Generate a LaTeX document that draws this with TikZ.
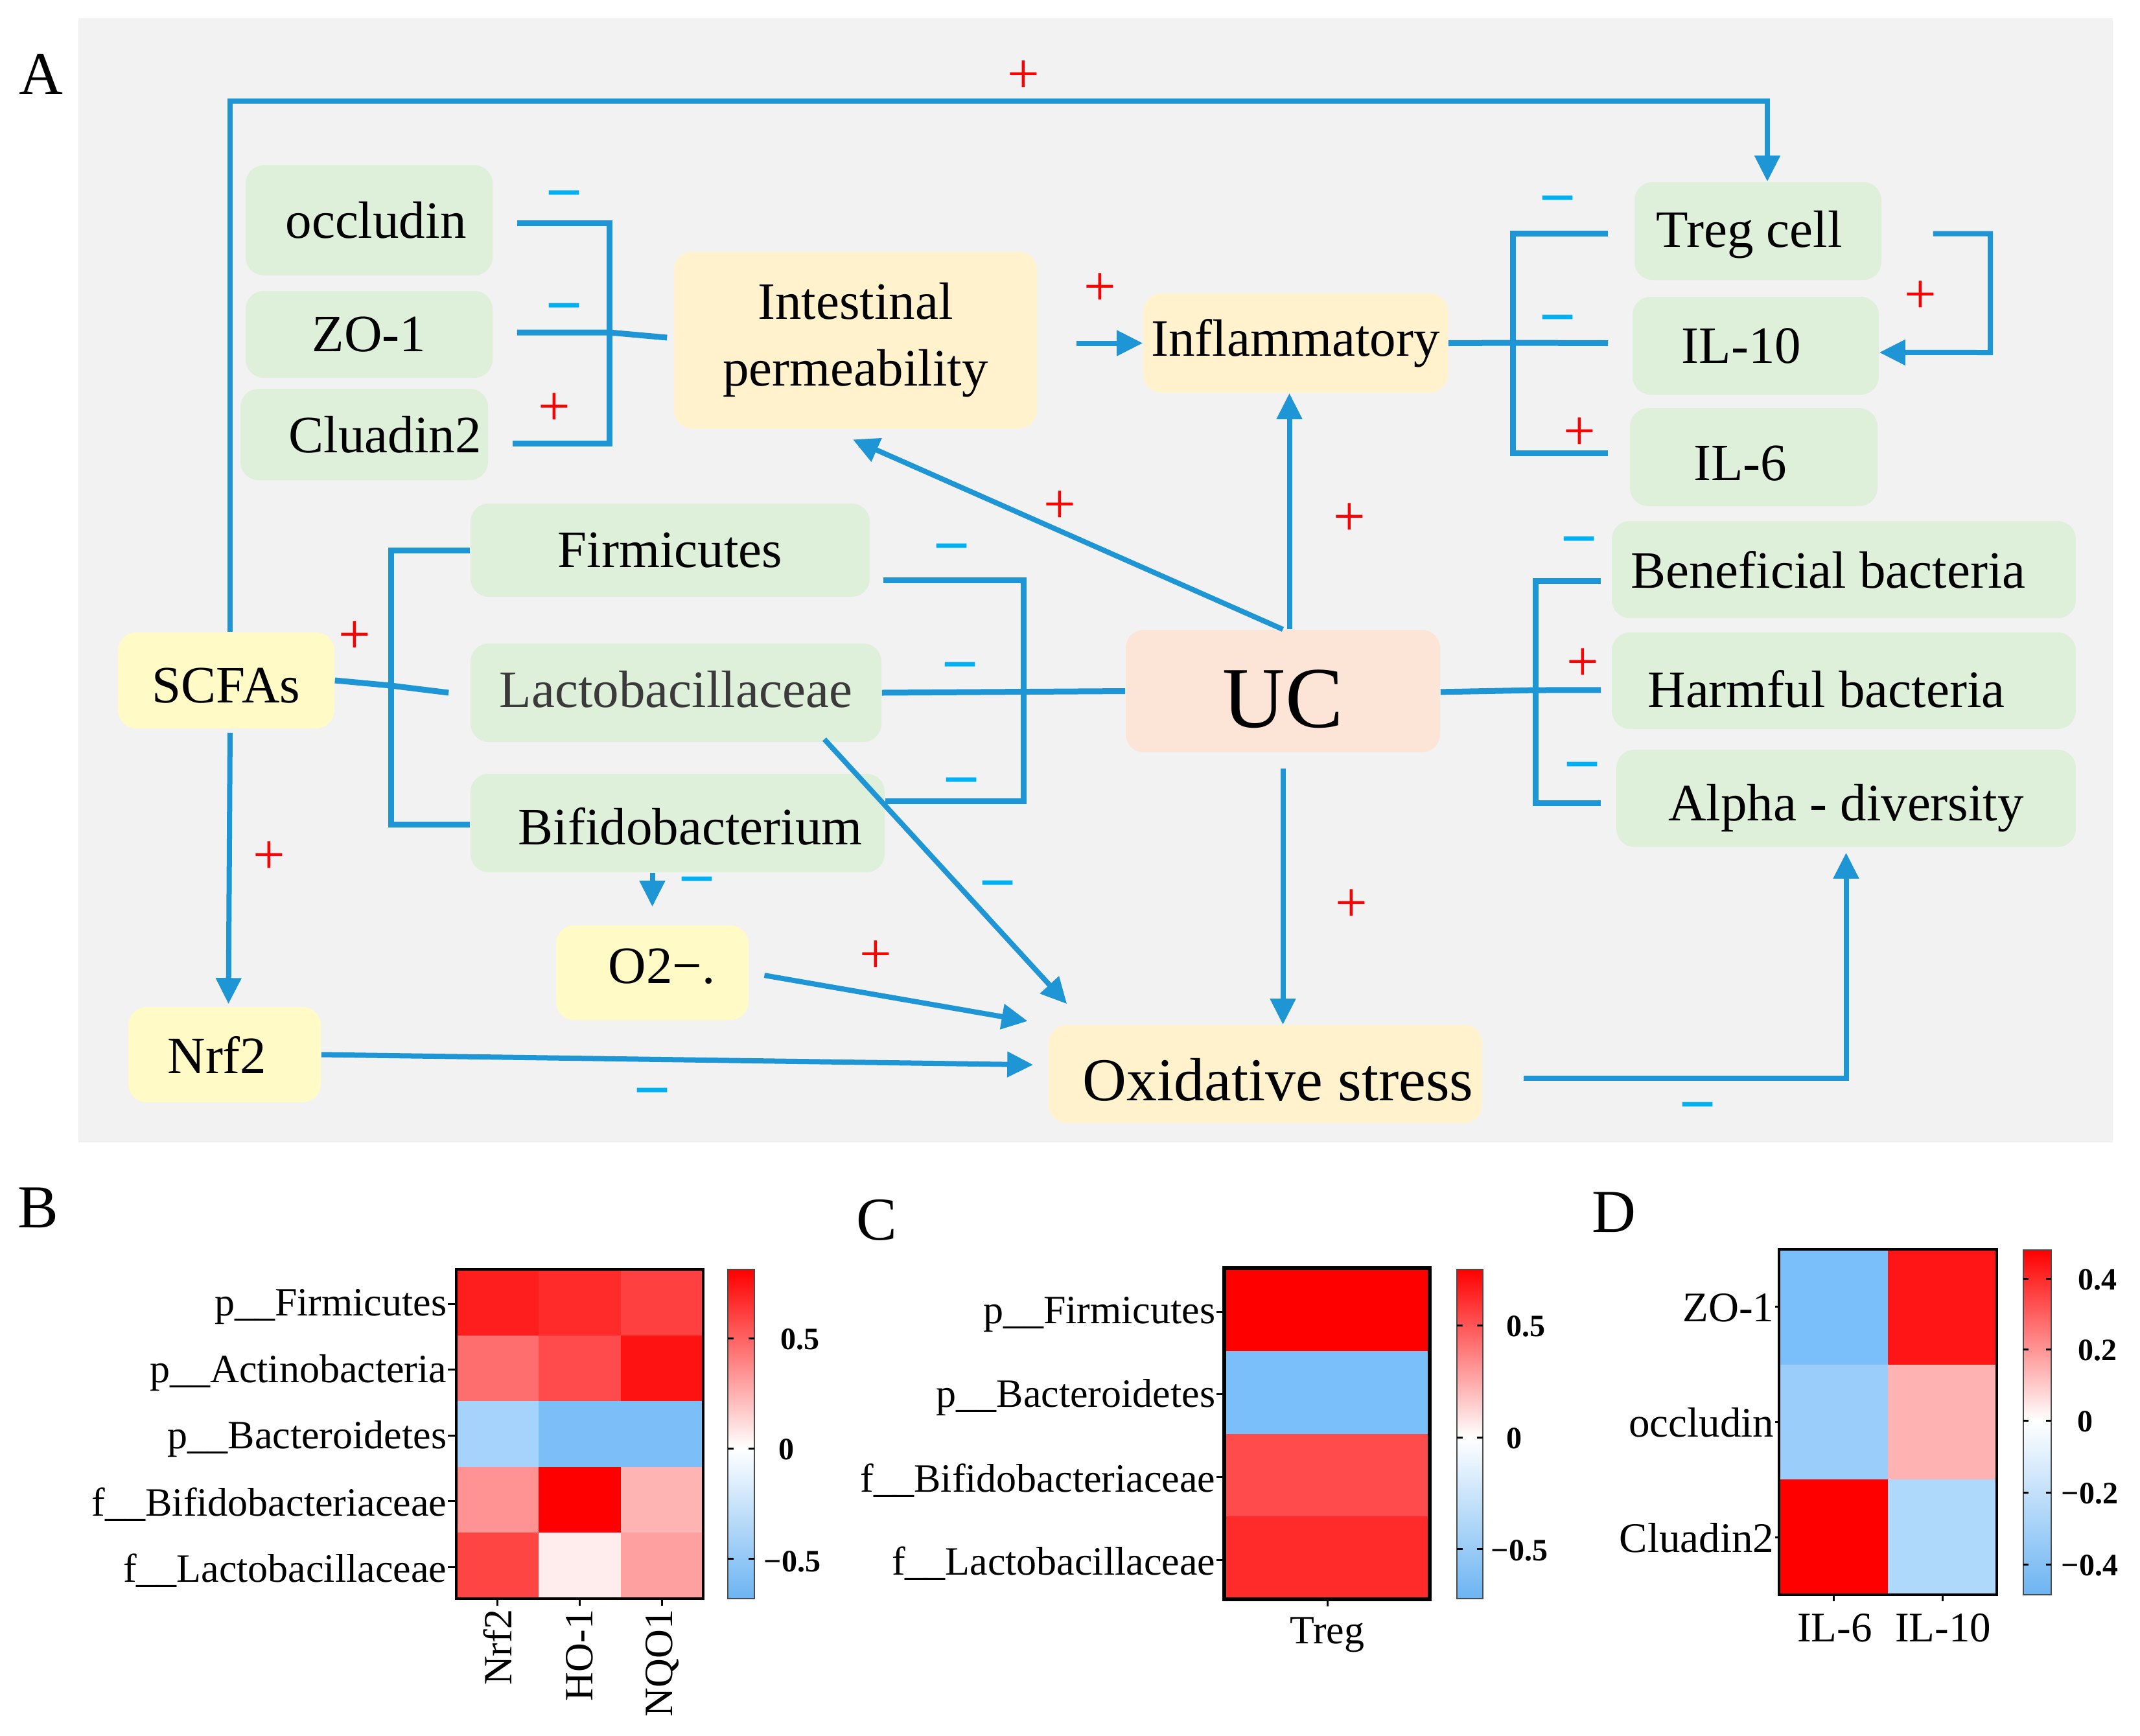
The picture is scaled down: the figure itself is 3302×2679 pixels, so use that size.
\documentclass[tikz,border=0pt]{standalone}
\usepackage{fontspec}
\setmainfont{Liberation Serif}
\newfontfamily\sansf{Liberation Sans}
\usetikzlibrary{arrows.meta,calc}
\definecolor{lineblue}{HTML}{1E96D6}
\definecolor{mcyan}{HTML}{00B0F0}
\definecolor{bggray}{HTML}{F2F2F2}
\definecolor{gfill}{HTML}{DEEFDA}
\definecolor{ofill}{HTML}{FFF2CC}
\definecolor{yfill}{HTML}{FFFAC6}
\definecolor{ucfill}{HTML}{FCE4D6}
\definecolor{cbblue}{HTML}{6CB4F2}
\definecolor{lacgray}{HTML}{3A3A3A}
% heatmap B
\definecolor{hB11}{HTML}{FF1E1E}\definecolor{hB12}{HTML}{FF2A2A}\definecolor{hB13}{HTML}{FF4040}
\definecolor{hB21}{HTML}{FF6E6E}\definecolor{hB22}{HTML}{FF4B4B}\definecolor{hB23}{HTML}{FF1212}
\definecolor{hB31}{HTML}{A6D3FB}\definecolor{hB32}{HTML}{7CBFF8}\definecolor{hB33}{HTML}{7BBEF8}
\definecolor{hB41}{HTML}{FF9393}\definecolor{hB42}{HTML}{FF0000}\definecolor{hB43}{HTML}{FFB4B4}
\definecolor{hB51}{HTML}{FF4444}\definecolor{hB52}{HTML}{FFECEC}\definecolor{hB53}{HTML}{FFA0A0}
% heatmap C
\definecolor{hC1}{HTML}{FF0000}\definecolor{hC2}{HTML}{7ABFF9}\definecolor{hC3}{HTML}{FF4B4B}\definecolor{hC4}{HTML}{FF2B2B}
% heatmap D
\definecolor{hD11}{HTML}{7ABFF9}\definecolor{hD12}{HTML}{FF1515}
\definecolor{hD21}{HTML}{9BCDFA}\definecolor{hD22}{HTML}{FFB2B2}
\definecolor{hD31}{HTML}{FF0000}\definecolor{hD32}{HTML}{AED9FB}
\begin{document}
\begin{tikzpicture}[x=0.25pt,y=-0.25pt,
  box/.style={rectangle,rounded corners=7pt,inner sep=0pt,align=center,font=\fontsize{20.25}{24}\selectfont},
  gbox/.style={box,fill=gfill},
  obox/.style={box,fill=ofill},
  ybox/.style={box,fill=yfill},
  conn/.style={draw=lineblue,line width=2pt},
  arr/.style={conn,-{Triangle[length=10pt,width=9.5pt]}},
  brk/.style={draw=lineblue,line width=2.25pt},
  plus/.style={text=red,font=\fontsize{22}{22}\selectfont,inner sep=0pt,anchor=base,yshift=-5.5pt},
  minus/.style={text=mcyan,font=\sansf\fontsize{24}{24}\selectfont,inner sep=0pt,anchor=base,yshift=-6.1pt},
  panlab/.style={inner sep=0pt,font=\fontsize{23.5}{24}\selectfont},
  hlab/.style={inner sep=0pt,font=\fontsize{15.5}{16}\selectfont},
  dlab/.style={inner sep=0pt,font=\fontsize{16.25}{17}\selectfont},
  cblab/.style={inner sep=0pt,font=\bfseries\fontsize{12}{12}\selectfont},
  tk/.style={line width=0.75pt}
]
\path[use as bounding box] (0,0) rectangle (3302,2679);
\fill[bggray] (121,28) rectangle (3260,1763);

\node[panlab] (labA) at (63,114) {A};

% ---------- nodes ----------
\node[gbox,minimum width=95.25pt,minimum height=42.5pt] (occ) at (569.5,340) {\kern5.25pt occludin};
\node[gbox,minimum width=95.25pt,minimum height=33.5pt] (zo1) at (569.5,516) {ZO-1};
\node[gbox,minimum width=95.5pt,minimum height=35.25pt] (cla) at (562,670.5) {\kern16pt Cluadin2};
\node[obox,minimum width=140pt,minimum height=68.25pt,font=\fontsize{20.25}{25.75}\selectfont] (ip) at (1320,525) {Intestinal\\permeability};
\node[obox,minimum width=117.5pt,minimum height=38.25pt] (infl) at (1999,529.5) {Inflammatory};
\node[gbox,minimum width=95.25pt,minimum height=37.75pt,text height=16.83pt,text depth=4.4pt] (treg) at (2712.5,356.5) {Treg cell\kern6.75pt};
\node[gbox,minimum width=95pt,minimum height=37.75pt] (il10) at (2709,533.5) {IL-10\kern11pt};
\node[gbox,minimum width=95.5pt,minimum height=37.75pt,text height=17.9pt,text depth=0pt] (il6) at (2706,705.5) {IL-6\kern10.5pt};
\node[gbox,minimum width=154pt,minimum height=36pt] (firm) at (1034,849) {Firmicutes};
\node[gbox,minimum width=158.5pt,minimum height=38pt,text=lacgray,text height=13.83pt,text depth=2.5pt] (lac) at (1043,1069) {Lactobacillaceae};
\node[gbox,minimum width=159.75pt,minimum height=38pt,text height=16.63pt,text depth=0pt] (bif) at (1045.5,1270) {\kern9.75pt Bifidobacterium};
\node[ybox,minimum width=83.5pt,minimum height=37pt,text height=17.5pt,text depth=0.3pt] (scfa) at (349,1050) {SCFAs};
\node[ybox,minimum width=74.25pt,minimum height=36.75pt] (nrf) at (346.5,1627.5) {Nrf2\kern5.75pt};
\node[ybox,minimum width=74.25pt,minimum height=36.5pt,text height=13.7pt,text depth=5.3pt] (o2) at (1006.5,1501) {\kern7.25pt O2−.};
\node[box,fill=ucfill,minimum width=121.25pt,minimum height=47.25pt,font=\fontsize{33.5}{36}\selectfont,text height=28.4pt,text depth=0.3pt] (uc) at (1979.5,1066.5) {UC};
\node[gbox,minimum width=179pt,minimum height=37.5pt] (ben) at (2845,879) {Beneficial bacteria\kern12pt};
\node[gbox,minimum width=179pt,minimum height=37.25pt,text height=20.63pt,text depth=0pt] (harm) at (2845,1050.5) {Harmful bacteria\kern13.5pt};
\node[gbox,minimum width=177.25pt,minimum height=37.5pt,text height=21.63pt,text depth=4.4pt] (alp) at (2848.5,1232) {Alpha - diversity};
\node[obox,minimum width=167.25pt,minimum height=37.75pt,font=\fontsize{23.5}{26}\selectfont,text height=20.55pt,text depth=0pt] (oxs) at (1952.5,1657.5) {\kern9.75pt Oxidative stress};

% ---------- brackets ----------
\coordinate (sp1) at (940,513);
\draw[brk] ([xshift=9.25pt,yshift=-1pt]occ.east) -| (sp1);
\draw[brk] ([xshift=9.25pt,yshift=-3.4pt]cla.east) -| (sp1);
\draw[brk] ([xshift=9.25pt,yshift=0.75pt]zo1.east) -- (sp1) -- ([xshift=-2.5pt,yshift=1pt]ip.west);

\coordinate (sp2) at (603,1058);
\draw[brk] (firm.west) -| (sp2);
\draw[brk] ([yshift=-0.5pt]bif.west) -| (sp2);
\draw[brk] (scfa.east) -- (sp2) -- ([xshift=-8.25pt]lac.west);

\coordinate (sp3) at (1579,1067);
\draw[brk] ([xshift=5pt,yshift=-11.5pt]firm.east) -| (sp3);
\draw[brk] ([yshift=8.5pt]bif.east) -| (sp3);
\draw[brk] (lac.east) -- (uc.west);

\coordinate (sp4) at (2334,529);
\draw[brk] ([xshift=-10pt,yshift=-1pt]treg.west) -| (sp4);
\draw[brk] ([xshift=-8.25pt,yshift=1.4pt]il6.west) -| (sp4);
\draw[brk] (infl.east) -- (sp4) -- ([xshift=-9.25pt,yshift=1pt]il10.west);

\coordinate (sp5) at (2369,1065);
\draw[brk] ([xshift=-4pt,yshift=-4.25pt]ben.west) -| (sp5);
\draw[brk] ([xshift=-5.75pt,yshift=-1.75pt]alp.west) -| (sp5);
\draw[brk] ([yshift=-0.35pt]uc.east) -- (sp5) -- ([xshift=-4pt,yshift=-3.6pt]harm.west);

% ---------- arrows ----------
\coordinate (topc) at (2727,156);
\draw[arr] ([xshift=1.5pt]scfa.north) |- (topc) -- (treg.north -| topc);
\draw[arr,shorten <=1.5pt] ([xshift=1.5pt]scfa.south) -- ([xshift=1.5pt,yshift=1pt]nrf.north);
\draw[arr,shorten >=5.75pt] (nrf.east) -- ([yshift=3.5pt]oxs.west);
\draw[arr,shorten <=6pt,shorten >=8pt] (o2.east) -- (oxs.north west);
\draw[arr] ($(lac.south)+(229,-5)$) -- ($(oxs.north west)+(29,-32)$);
\draw[arr,shorten >=7pt] (bif.south -| o2.north) -- (o2.north);
\draw[arr] (uc.north) -- ($(ip.south)+(-4,16)$);
\draw[arr] ([xshift=2.5pt]uc.north) -- ([xshift=2.5pt]uc.north |- infl.south);
\draw[arr,shorten <=6pt] (uc.south) -- (uc.south |- oxs.north);
\draw[arr,shorten <=15pt] (ip.east |- infl.west) -- (infl.west);
\draw[arr,shorten <=15.75pt,shorten >=2pt] ([yshift=-1.6pt]oxs.east) -| (alp.south);
\coordinate (lpb) at (3071,544);
\draw[arr] ([xshift=19.75pt,yshift=-1pt]treg.east) -| (lpb) -- ([yshift=-2.6pt]il10.east);

% ---------- signs ----------
\node[plus] (p1) at (1579,121) {+};
\node[plus] (p2) at (855,634) {+};
\node[plus] (p3) at (1697,449) {+};
\node[plus] (p4) at (2963,461) {+};
\node[plus] (p5) at (2437,672) {+};
\node[plus] (p6) at (547,986) {+};
\node[plus] (p7) at (1635,785) {+};
\node[plus] (p8) at (2082,804) {+};
\node[plus] (p9) at (2442,1028) {+};
\node[plus] (p10) at (415,1326) {+};
\node[plus] (p11) at (1351,1479) {+};
\node[plus] (p12) at (2085,1400) {+};
\node[minus] (m1) at (871,305) {−};
\node[minus] (m2) at (871,479) {−};
\node[minus] (m3) at (2404,313) {−};
\node[minus] (m4) at (2404,497) {−};
\node[minus] (m5) at (1469,850) {−};
\node[minus] (m6) at (1482,1033) {−};
\node[minus] (m7) at (1484,1211) {−};
\node[minus] (m8) at (2437,839) {−};
\node[minus] (m9) at (2442,1187) {−};
\node[minus] (m10) at (1076,1364) {−};
\node[minus] (m11) at (1540,1370) {−};
\node[minus] (m12) at (1007,1690) {−};
\node[minus] (m13) at (2620,1712) {−};

% ---------- panel B ----------
\node[panlab] (labB) at (59,1864) {B};
\foreach \c/\r/\k in {0/0/11,1/0/12,2/0/13,0/1/21,1/1/22,2/1/23,0/2/31,1/2/32,2/2/33,0/3/41,1/3/42,2/3/43,0/4/51,1/4/52,2/4/53}
  \fill[hB\k] ({704+127*\c},{1959+101.6*\r}) rectangle ++(127.5,102);
\draw[line width=0.9pt] (704,1959) rectangle (1085,2467);
\foreach \r/\t/\n in {0/p\_\_Firmicutes/bl1,1/p\_\_Actinobacteria/bl2,2/p\_\_Bacteroidetes/bl3,3/f\_\_Bifidobacteriaceae/bl4,4/f\_\_Lactobacillaceae/bl5}{
  \node[hlab,anchor=east] (\n) at (690,{2017+101.6*\r}) {\t};
  \draw[tk] (691,{2012+101.6*\r}) -- (704,{2012+101.6*\r});
}
\foreach \c/\t/\n in {0/Nrf2/bc1,1/HO-1/bc2,2/NQO1/bc3}{
  \node[hlab,rotate=90,anchor=east] (\n) at ({767.5+127*\c},2483) {\t};
  \draw[tk] ({767.5+127*\c},2467) -- ({767.5+127*\c},2478);
}
\shade[top color=red,bottom color=white] (1123,1959) rectangle (1164,2235);
\shade[top color=white,bottom color=cbblue] (1123,2235) rectangle (1164,2467);
\draw[black!70,line width=0.5pt] (1123,1959) rectangle (1164,2467);
\foreach \y in {2065,2235,2405}{
  \draw[tk] (1123,\y) -- ++(9,0);
  \draw[tk] (1164,\y) -- ++(-9,0);
}
\node[cblab,anchor=east] (bt1) at (1265,2067) {0.5};
\node[cblab,anchor=west] (bt2) at (1201,2237) {0};
\node[cblab,anchor=east] (bt3) at (1267,2410) {−0.5};

% ---------- panel C ----------
\node[panlab] (labC) at (1353,1883) {C};
\foreach \r/\k in {0/1,1/2,2/3,3/4}
  \fill[hC\k] (1889,{1957+127.75*\r}) rectangle ++(317,128.25);
\draw[line width=1.5pt] (1889,1957) rectangle (2206,2468);
\foreach \r/\t/\n in {0/p\_\_Firmicutes/cl1,1/p\_\_Bacteroidetes/cl2,2/f\_\_Bifidobacteriaceae/cl3,3/f\_\_Lactobacillaceae/cl4}{
  \node[hlab,anchor=east] (\n) at (1876,{2029+127.75*\r}) {\t};
  \draw[tk] (1877,{2024+127.75*\r}) -- (1889,{2024+127.75*\r});
}
\draw[tk] (2048,2468) -- (2048,2479);
\node[hlab] (ct) at (2048,2523) {Treg};
\shade[top color=red,bottom color=white] (2248,1959) rectangle (2288,2218);
\shade[top color=white,bottom color=cbblue] (2248,2218) rectangle (2288,2467);
\draw[black!70,line width=0.5pt] (2248,1959) rectangle (2288,2467);
\foreach \y in {2045,2218,2390}{
  \draw[tk] (2248,\y) -- ++(9,0);
  \draw[tk] (2288,\y) -- ++(-9,0);
}
\node[cblab,anchor=east] (ctk1) at (2385,2047) {0.5};
\node[cblab,anchor=west] (ctk2) at (2324,2220) {0};
\node[cblab,anchor=east] (ctk3) at (2389,2393) {−0.5};

% ---------- panel D ----------
\node[panlab] (labD) at (2490,1871) {D};
\foreach \c/\r/\k in {0/0/11,1/0/12,0/1/21,1/1/22,0/2/31,1/2/32}
  \fill[hD\k] ({2745+168*\c},{1928+177.7*\r}) rectangle ++(168.5,178);
\draw[line width=1pt] (2745,1928) rectangle (3081,2461);
\foreach \r/\t/\n in {0/ZO-1/dl1,1/occludin/dl2,2/Cluadin2/dl3}{
  \node[dlab,anchor=east] (\n) at (2738,{2018+177.7*\r}) {\t};
  \draw[tk] (2739,{2016.8+177.7*\r}) -- (2745,{2016.8+177.7*\r});
}
\foreach \c/\t/\n in {0/IL-6/dc1,1/IL-10/dc2}{
  \draw[tk] ({2829+168*\c},2461) -- ({2829+168*\c},2471);
  \node[dlab] (\n) at ({2831+167*\c},2512) {\t};
}
\shade[top color=red,bottom color=white] (3122,1929) rectangle (3165,2192);
\shade[top color=white,bottom color=cbblue] (3122,2192) rectangle (3165,2461);
\draw[black!70,line width=0.5pt] (3122,1929) rectangle (3165,2461);
\foreach \y in {1973,2082,2192,2303,2414}{
  \draw[tk] (3122,\y) -- ++(8,0);
  \draw[tk] (3165,\y) -- ++(-8,0);
}
\node[cblab,anchor=east] (dtk1) at (3267,1975) {0.4};
\node[cblab,anchor=east] (dtk2) at (3267,2084) {0.2};
\node[cblab,anchor=west] (dtk3) at (3205,2194) {0};
\node[cblab,anchor=east] (dtk4) at (3269,2305) {−0.2};
\node[cblab,anchor=east] (dtk5) at (3269,2416) {−0.4};
\end{tikzpicture}
\end{document}
